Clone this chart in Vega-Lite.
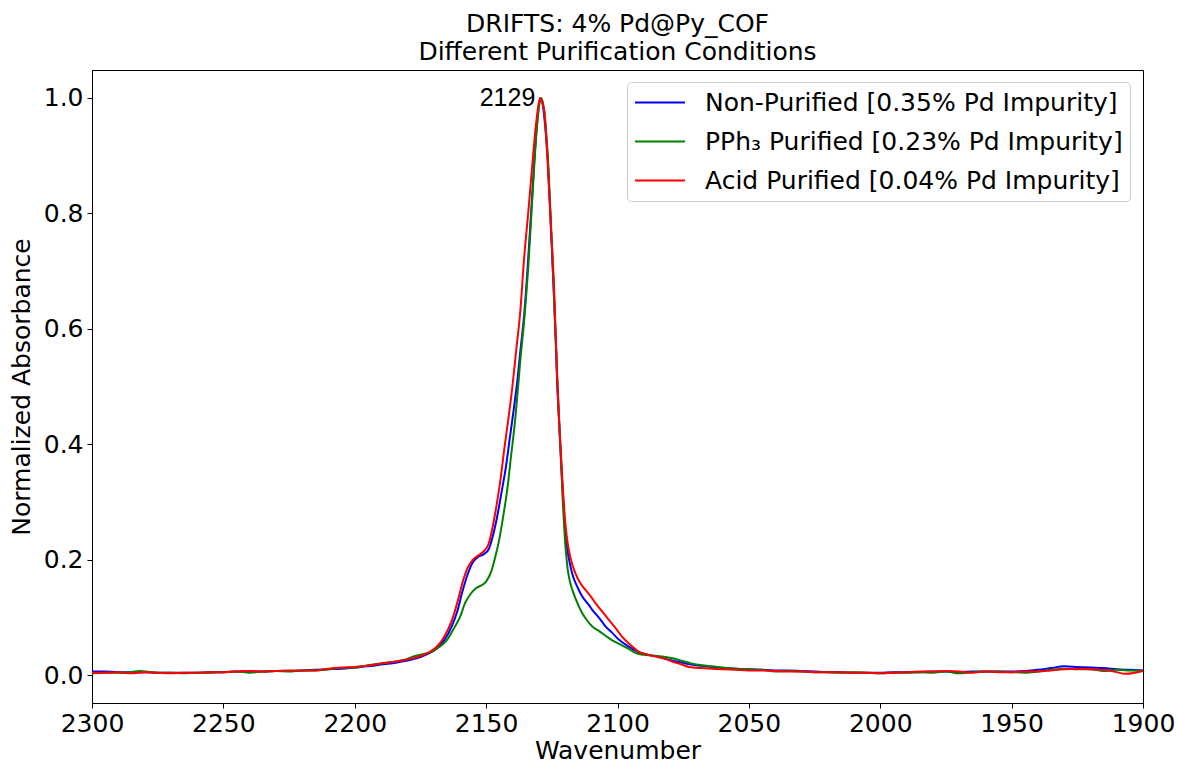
{
  "$schema": "https://vega.github.io/schema/vega-lite/v6.json",
  "width": 1051,
  "height": 633,
  "autosize": {"type": "none"},
  "padding": {"left": 92, "top": 70, "right": 34, "bottom": 60},
  "background": "white",
  "title": {
    "text": ["DRIFTS: 4% Pd@Py_COF", "Different Purification Conditions"],
    "font": "DejaVu Sans",
    "fontSize": 25,
    "fontWeight": "normal",
    "color": "#000000",
    "lineHeight": 28,
    "anchor": "middle",
    "offset": 5
  },
  "config": {
    "view": {"stroke": "#000000", "strokeWidth": 1},
    "axis": {
      "grid": false,
      "domainColor": "#000000",
      "tickColor": "#000000",
      "tickSize": 5,
      "labelFlush": false,
      "labelOverlap": false,
      "labelFont": "DejaVu Sans",
      "labelFontSize": 25,
      "labelColor": "#000000",
      "titleFont": "DejaVu Sans",
      "titleFontSize": 25,
      "titleFontWeight": "normal",
      "titleColor": "#000000"
    }
  },
  "layer": [
    {
      "data": {
        "values": [
          {"series": "Non-Purified [0.35% Pd Impurity]", "wavenumber": 2300, "absorbance": 0.006},
          {"series": "Non-Purified [0.35% Pd Impurity]", "wavenumber": 2295, "absorbance": 0.006},
          {"series": "Non-Purified [0.35% Pd Impurity]", "wavenumber": 2290, "absorbance": 0.005},
          {"series": "Non-Purified [0.35% Pd Impurity]", "wavenumber": 2285, "absorbance": 0.005},
          {"series": "Non-Purified [0.35% Pd Impurity]", "wavenumber": 2280, "absorbance": 0.005},
          {"series": "Non-Purified [0.35% Pd Impurity]", "wavenumber": 2275, "absorbance": 0.004},
          {"series": "Non-Purified [0.35% Pd Impurity]", "wavenumber": 2270, "absorbance": 0.004},
          {"series": "Non-Purified [0.35% Pd Impurity]", "wavenumber": 2265, "absorbance": 0.004},
          {"series": "Non-Purified [0.35% Pd Impurity]", "wavenumber": 2260, "absorbance": 0.004},
          {"series": "Non-Purified [0.35% Pd Impurity]", "wavenumber": 2255, "absorbance": 0.005},
          {"series": "Non-Purified [0.35% Pd Impurity]", "wavenumber": 2250, "absorbance": 0.005},
          {"series": "Non-Purified [0.35% Pd Impurity]", "wavenumber": 2245, "absorbance": 0.006},
          {"series": "Non-Purified [0.35% Pd Impurity]", "wavenumber": 2240, "absorbance": 0.006},
          {"series": "Non-Purified [0.35% Pd Impurity]", "wavenumber": 2235, "absorbance": 0.006},
          {"series": "Non-Purified [0.35% Pd Impurity]", "wavenumber": 2230, "absorbance": 0.007},
          {"series": "Non-Purified [0.35% Pd Impurity]", "wavenumber": 2225, "absorbance": 0.007},
          {"series": "Non-Purified [0.35% Pd Impurity]", "wavenumber": 2220, "absorbance": 0.008},
          {"series": "Non-Purified [0.35% Pd Impurity]", "wavenumber": 2215, "absorbance": 0.009},
          {"series": "Non-Purified [0.35% Pd Impurity]", "wavenumber": 2210, "absorbance": 0.010},
          {"series": "Non-Purified [0.35% Pd Impurity]", "wavenumber": 2205, "absorbance": 0.011},
          {"series": "Non-Purified [0.35% Pd Impurity]", "wavenumber": 2200, "absorbance": 0.013},
          {"series": "Non-Purified [0.35% Pd Impurity]", "wavenumber": 2195, "absorbance": 0.015},
          {"series": "Non-Purified [0.35% Pd Impurity]", "wavenumber": 2190, "absorbance": 0.018},
          {"series": "Non-Purified [0.35% Pd Impurity]", "wavenumber": 2185, "absorbance": 0.021},
          {"series": "Non-Purified [0.35% Pd Impurity]", "wavenumber": 2180, "absorbance": 0.025},
          {"series": "Non-Purified [0.35% Pd Impurity]", "wavenumber": 2175, "absorbance": 0.031},
          {"series": "Non-Purified [0.35% Pd Impurity]", "wavenumber": 2172, "absorbance": 0.037},
          {"series": "Non-Purified [0.35% Pd Impurity]", "wavenumber": 2169, "absorbance": 0.045},
          {"series": "Non-Purified [0.35% Pd Impurity]", "wavenumber": 2166, "absorbance": 0.060},
          {"series": "Non-Purified [0.35% Pd Impurity]", "wavenumber": 2163, "absorbance": 0.085},
          {"series": "Non-Purified [0.35% Pd Impurity]", "wavenumber": 2161, "absorbance": 0.110},
          {"series": "Non-Purified [0.35% Pd Impurity]", "wavenumber": 2159, "absorbance": 0.145},
          {"series": "Non-Purified [0.35% Pd Impurity]", "wavenumber": 2157, "absorbance": 0.175},
          {"series": "Non-Purified [0.35% Pd Impurity]", "wavenumber": 2155, "absorbance": 0.196},
          {"series": "Non-Purified [0.35% Pd Impurity]", "wavenumber": 2153, "absorbance": 0.205},
          {"series": "Non-Purified [0.35% Pd Impurity]", "wavenumber": 2151, "absorbance": 0.209},
          {"series": "Non-Purified [0.35% Pd Impurity]", "wavenumber": 2149, "absorbance": 0.218},
          {"series": "Non-Purified [0.35% Pd Impurity]", "wavenumber": 2147.5, "absorbance": 0.240},
          {"series": "Non-Purified [0.35% Pd Impurity]", "wavenumber": 2146, "absorbance": 0.270},
          {"series": "Non-Purified [0.35% Pd Impurity]", "wavenumber": 2144, "absorbance": 0.320},
          {"series": "Non-Purified [0.35% Pd Impurity]", "wavenumber": 2142.5, "absorbance": 0.360},
          {"series": "Non-Purified [0.35% Pd Impurity]", "wavenumber": 2141, "absorbance": 0.410},
          {"series": "Non-Purified [0.35% Pd Impurity]", "wavenumber": 2139.5, "absorbance": 0.460},
          {"series": "Non-Purified [0.35% Pd Impurity]", "wavenumber": 2138, "absorbance": 0.515},
          {"series": "Non-Purified [0.35% Pd Impurity]", "wavenumber": 2137, "absorbance": 0.560},
          {"series": "Non-Purified [0.35% Pd Impurity]", "wavenumber": 2135.5, "absorbance": 0.625},
          {"series": "Non-Purified [0.35% Pd Impurity]", "wavenumber": 2134, "absorbance": 0.720},
          {"series": "Non-Purified [0.35% Pd Impurity]", "wavenumber": 2132.5, "absorbance": 0.830},
          {"series": "Non-Purified [0.35% Pd Impurity]", "wavenumber": 2131, "absorbance": 0.935},
          {"series": "Non-Purified [0.35% Pd Impurity]", "wavenumber": 2130, "absorbance": 0.985},
          {"series": "Non-Purified [0.35% Pd Impurity]", "wavenumber": 2129.3, "absorbance": 1.000},
          {"series": "Non-Purified [0.35% Pd Impurity]", "wavenumber": 2128.5, "absorbance": 0.990},
          {"series": "Non-Purified [0.35% Pd Impurity]", "wavenumber": 2127.5, "absorbance": 0.950},
          {"series": "Non-Purified [0.35% Pd Impurity]", "wavenumber": 2126.5, "absorbance": 0.890},
          {"series": "Non-Purified [0.35% Pd Impurity]", "wavenumber": 2125.5, "absorbance": 0.790},
          {"series": "Non-Purified [0.35% Pd Impurity]", "wavenumber": 2124.5, "absorbance": 0.690},
          {"series": "Non-Purified [0.35% Pd Impurity]", "wavenumber": 2123.5, "absorbance": 0.580},
          {"series": "Non-Purified [0.35% Pd Impurity]", "wavenumber": 2123, "absorbance": 0.510},
          {"series": "Non-Purified [0.35% Pd Impurity]", "wavenumber": 2122, "absorbance": 0.420},
          {"series": "Non-Purified [0.35% Pd Impurity]", "wavenumber": 2121, "absorbance": 0.330},
          {"series": "Non-Purified [0.35% Pd Impurity]", "wavenumber": 2120, "absorbance": 0.260},
          {"series": "Non-Purified [0.35% Pd Impurity]", "wavenumber": 2119, "absorbance": 0.215},
          {"series": "Non-Purified [0.35% Pd Impurity]", "wavenumber": 2118, "absorbance": 0.190},
          {"series": "Non-Purified [0.35% Pd Impurity]", "wavenumber": 2117, "absorbance": 0.172},
          {"series": "Non-Purified [0.35% Pd Impurity]", "wavenumber": 2115, "absorbance": 0.150},
          {"series": "Non-Purified [0.35% Pd Impurity]", "wavenumber": 2113.4, "absorbance": 0.136},
          {"series": "Non-Purified [0.35% Pd Impurity]", "wavenumber": 2111, "absorbance": 0.122},
          {"series": "Non-Purified [0.35% Pd Impurity]", "wavenumber": 2109.6, "absorbance": 0.113},
          {"series": "Non-Purified [0.35% Pd Impurity]", "wavenumber": 2107, "absorbance": 0.099},
          {"series": "Non-Purified [0.35% Pd Impurity]", "wavenumber": 2104.5, "absorbance": 0.084},
          {"series": "Non-Purified [0.35% Pd Impurity]", "wavenumber": 2102, "absorbance": 0.073},
          {"series": "Non-Purified [0.35% Pd Impurity]", "wavenumber": 2099.4, "absorbance": 0.061},
          {"series": "Non-Purified [0.35% Pd Impurity]", "wavenumber": 2096, "absorbance": 0.050},
          {"series": "Non-Purified [0.35% Pd Impurity]", "wavenumber": 2093, "absorbance": 0.042},
          {"series": "Non-Purified [0.35% Pd Impurity]", "wavenumber": 2090, "absorbance": 0.037},
          {"series": "Non-Purified [0.35% Pd Impurity]", "wavenumber": 2087, "absorbance": 0.034},
          {"series": "Non-Purified [0.35% Pd Impurity]", "wavenumber": 2083, "absorbance": 0.030},
          {"series": "Non-Purified [0.35% Pd Impurity]", "wavenumber": 2080, "absorbance": 0.026},
          {"series": "Non-Purified [0.35% Pd Impurity]", "wavenumber": 2076, "absorbance": 0.022},
          {"series": "Non-Purified [0.35% Pd Impurity]", "wavenumber": 2072, "absorbance": 0.018},
          {"series": "Non-Purified [0.35% Pd Impurity]", "wavenumber": 2068, "absorbance": 0.016},
          {"series": "Non-Purified [0.35% Pd Impurity]", "wavenumber": 2064, "absorbance": 0.014},
          {"series": "Non-Purified [0.35% Pd Impurity]", "wavenumber": 2060, "absorbance": 0.012},
          {"series": "Non-Purified [0.35% Pd Impurity]", "wavenumber": 2055, "absorbance": 0.011},
          {"series": "Non-Purified [0.35% Pd Impurity]", "wavenumber": 2050, "absorbance": 0.010},
          {"series": "Non-Purified [0.35% Pd Impurity]", "wavenumber": 2045, "absorbance": 0.009},
          {"series": "Non-Purified [0.35% Pd Impurity]", "wavenumber": 2040, "absorbance": 0.008},
          {"series": "Non-Purified [0.35% Pd Impurity]", "wavenumber": 2035, "absorbance": 0.008},
          {"series": "Non-Purified [0.35% Pd Impurity]", "wavenumber": 2030, "absorbance": 0.007},
          {"series": "Non-Purified [0.35% Pd Impurity]", "wavenumber": 2025, "absorbance": 0.006},
          {"series": "Non-Purified [0.35% Pd Impurity]", "wavenumber": 2020, "absorbance": 0.005},
          {"series": "Non-Purified [0.35% Pd Impurity]", "wavenumber": 2015, "absorbance": 0.005},
          {"series": "Non-Purified [0.35% Pd Impurity]", "wavenumber": 2010, "absorbance": 0.004},
          {"series": "Non-Purified [0.35% Pd Impurity]", "wavenumber": 2005, "absorbance": 0.004},
          {"series": "Non-Purified [0.35% Pd Impurity]", "wavenumber": 2000, "absorbance": 0.004},
          {"series": "Non-Purified [0.35% Pd Impurity]", "wavenumber": 1995, "absorbance": 0.005},
          {"series": "Non-Purified [0.35% Pd Impurity]", "wavenumber": 1990, "absorbance": 0.005},
          {"series": "Non-Purified [0.35% Pd Impurity]", "wavenumber": 1985, "absorbance": 0.005},
          {"series": "Non-Purified [0.35% Pd Impurity]", "wavenumber": 1980, "absorbance": 0.006},
          {"series": "Non-Purified [0.35% Pd Impurity]", "wavenumber": 1975, "absorbance": 0.006},
          {"series": "Non-Purified [0.35% Pd Impurity]", "wavenumber": 1970, "absorbance": 0.005},
          {"series": "Non-Purified [0.35% Pd Impurity]", "wavenumber": 1965, "absorbance": 0.006},
          {"series": "Non-Purified [0.35% Pd Impurity]", "wavenumber": 1960, "absorbance": 0.006},
          {"series": "Non-Purified [0.35% Pd Impurity]", "wavenumber": 1955, "absorbance": 0.006},
          {"series": "Non-Purified [0.35% Pd Impurity]", "wavenumber": 1950, "absorbance": 0.006},
          {"series": "Non-Purified [0.35% Pd Impurity]", "wavenumber": 1945, "absorbance": 0.007},
          {"series": "Non-Purified [0.35% Pd Impurity]", "wavenumber": 1940, "absorbance": 0.009},
          {"series": "Non-Purified [0.35% Pd Impurity]", "wavenumber": 1935, "absorbance": 0.012},
          {"series": "Non-Purified [0.35% Pd Impurity]", "wavenumber": 1930, "absorbance": 0.015},
          {"series": "Non-Purified [0.35% Pd Impurity]", "wavenumber": 1925, "absorbance": 0.014},
          {"series": "Non-Purified [0.35% Pd Impurity]", "wavenumber": 1920, "absorbance": 0.013},
          {"series": "Non-Purified [0.35% Pd Impurity]", "wavenumber": 1915, "absorbance": 0.012},
          {"series": "Non-Purified [0.35% Pd Impurity]", "wavenumber": 1910, "absorbance": 0.010},
          {"series": "Non-Purified [0.35% Pd Impurity]", "wavenumber": 1905, "absorbance": 0.009},
          {"series": "Non-Purified [0.35% Pd Impurity]", "wavenumber": 1900, "absorbance": 0.008},

          {"series": "PPh₃ Purified [0.23% Pd Impurity]", "wavenumber": 2300, "absorbance": 0.003},
          {"series": "PPh₃ Purified [0.23% Pd Impurity]", "wavenumber": 2295, "absorbance": 0.004},
          {"series": "PPh₃ Purified [0.23% Pd Impurity]", "wavenumber": 2290, "absorbance": 0.004},
          {"series": "PPh₃ Purified [0.23% Pd Impurity]", "wavenumber": 2285, "absorbance": 0.005},
          {"series": "PPh₃ Purified [0.23% Pd Impurity]", "wavenumber": 2282, "absorbance": 0.007},
          {"series": "PPh₃ Purified [0.23% Pd Impurity]", "wavenumber": 2278, "absorbance": 0.005},
          {"series": "PPh₃ Purified [0.23% Pd Impurity]", "wavenumber": 2275, "absorbance": 0.004},
          {"series": "PPh₃ Purified [0.23% Pd Impurity]", "wavenumber": 2270, "absorbance": 0.004},
          {"series": "PPh₃ Purified [0.23% Pd Impurity]", "wavenumber": 2265, "absorbance": 0.003},
          {"series": "PPh₃ Purified [0.23% Pd Impurity]", "wavenumber": 2260, "absorbance": 0.004},
          {"series": "PPh₃ Purified [0.23% Pd Impurity]", "wavenumber": 2255, "absorbance": 0.004},
          {"series": "PPh₃ Purified [0.23% Pd Impurity]", "wavenumber": 2250, "absorbance": 0.005},
          {"series": "PPh₃ Purified [0.23% Pd Impurity]", "wavenumber": 2245, "absorbance": 0.006},
          {"series": "PPh₃ Purified [0.23% Pd Impurity]", "wavenumber": 2240, "absorbance": 0.004},
          {"series": "PPh₃ Purified [0.23% Pd Impurity]", "wavenumber": 2235, "absorbance": 0.006},
          {"series": "PPh₃ Purified [0.23% Pd Impurity]", "wavenumber": 2230, "absorbance": 0.007},
          {"series": "PPh₃ Purified [0.23% Pd Impurity]", "wavenumber": 2225, "absorbance": 0.006},
          {"series": "PPh₃ Purified [0.23% Pd Impurity]", "wavenumber": 2220, "absorbance": 0.008},
          {"series": "PPh₃ Purified [0.23% Pd Impurity]", "wavenumber": 2215, "absorbance": 0.008},
          {"series": "PPh₃ Purified [0.23% Pd Impurity]", "wavenumber": 2210, "absorbance": 0.010},
          {"series": "PPh₃ Purified [0.23% Pd Impurity]", "wavenumber": 2205, "absorbance": 0.012},
          {"series": "PPh₃ Purified [0.23% Pd Impurity]", "wavenumber": 2200, "absorbance": 0.013},
          {"series": "PPh₃ Purified [0.23% Pd Impurity]", "wavenumber": 2195, "absorbance": 0.017},
          {"series": "PPh₃ Purified [0.23% Pd Impurity]", "wavenumber": 2190, "absorbance": 0.020},
          {"series": "PPh₃ Purified [0.23% Pd Impurity]", "wavenumber": 2185, "absorbance": 0.023},
          {"series": "PPh₃ Purified [0.23% Pd Impurity]", "wavenumber": 2180, "absorbance": 0.028},
          {"series": "PPh₃ Purified [0.23% Pd Impurity]", "wavenumber": 2177, "absorbance": 0.033},
          {"series": "PPh₃ Purified [0.23% Pd Impurity]", "wavenumber": 2174, "absorbance": 0.036},
          {"series": "PPh₃ Purified [0.23% Pd Impurity]", "wavenumber": 2171, "absorbance": 0.040},
          {"series": "PPh₃ Purified [0.23% Pd Impurity]", "wavenumber": 2168, "absorbance": 0.048},
          {"series": "PPh₃ Purified [0.23% Pd Impurity]", "wavenumber": 2165, "absorbance": 0.060},
          {"series": "PPh₃ Purified [0.23% Pd Impurity]", "wavenumber": 2162, "absorbance": 0.083},
          {"series": "PPh₃ Purified [0.23% Pd Impurity]", "wavenumber": 2160, "absorbance": 0.100},
          {"series": "PPh₃ Purified [0.23% Pd Impurity]", "wavenumber": 2158, "absorbance": 0.125},
          {"series": "PPh₃ Purified [0.23% Pd Impurity]", "wavenumber": 2156, "absorbance": 0.140},
          {"series": "PPh₃ Purified [0.23% Pd Impurity]", "wavenumber": 2154, "absorbance": 0.150},
          {"series": "PPh₃ Purified [0.23% Pd Impurity]", "wavenumber": 2152, "absorbance": 0.155},
          {"series": "PPh₃ Purified [0.23% Pd Impurity]", "wavenumber": 2150, "absorbance": 0.162},
          {"series": "PPh₃ Purified [0.23% Pd Impurity]", "wavenumber": 2148, "absorbance": 0.180},
          {"series": "PPh₃ Purified [0.23% Pd Impurity]", "wavenumber": 2146.5, "absorbance": 0.205},
          {"series": "PPh₃ Purified [0.23% Pd Impurity]", "wavenumber": 2145, "absorbance": 0.235},
          {"series": "PPh₃ Purified [0.23% Pd Impurity]", "wavenumber": 2143.5, "absorbance": 0.275},
          {"series": "PPh₃ Purified [0.23% Pd Impurity]", "wavenumber": 2142, "absorbance": 0.320},
          {"series": "PPh₃ Purified [0.23% Pd Impurity]", "wavenumber": 2140.5, "absorbance": 0.380},
          {"series": "PPh₃ Purified [0.23% Pd Impurity]", "wavenumber": 2139, "absorbance": 0.440},
          {"series": "PPh₃ Purified [0.23% Pd Impurity]", "wavenumber": 2138, "absorbance": 0.490},
          {"series": "PPh₃ Purified [0.23% Pd Impurity]", "wavenumber": 2137, "absorbance": 0.545},
          {"series": "PPh₃ Purified [0.23% Pd Impurity]", "wavenumber": 2135.5, "absorbance": 0.615},
          {"series": "PPh₃ Purified [0.23% Pd Impurity]", "wavenumber": 2134, "absorbance": 0.705},
          {"series": "PPh₃ Purified [0.23% Pd Impurity]", "wavenumber": 2132.5, "absorbance": 0.820},
          {"series": "PPh₃ Purified [0.23% Pd Impurity]", "wavenumber": 2131, "absorbance": 0.930},
          {"series": "PPh₃ Purified [0.23% Pd Impurity]", "wavenumber": 2130, "absorbance": 0.980},
          {"series": "PPh₃ Purified [0.23% Pd Impurity]", "wavenumber": 2129.2, "absorbance": 1.000},
          {"series": "PPh₃ Purified [0.23% Pd Impurity]", "wavenumber": 2128.3, "absorbance": 0.990},
          {"series": "PPh₃ Purified [0.23% Pd Impurity]", "wavenumber": 2127.3, "absorbance": 0.950},
          {"series": "PPh₃ Purified [0.23% Pd Impurity]", "wavenumber": 2126.3, "absorbance": 0.880},
          {"series": "PPh₃ Purified [0.23% Pd Impurity]", "wavenumber": 2125.3, "absorbance": 0.780},
          {"series": "PPh₃ Purified [0.23% Pd Impurity]", "wavenumber": 2124.3, "absorbance": 0.670},
          {"series": "PPh₃ Purified [0.23% Pd Impurity]", "wavenumber": 2123.3, "absorbance": 0.560},
          {"series": "PPh₃ Purified [0.23% Pd Impurity]", "wavenumber": 2122.7, "absorbance": 0.490},
          {"series": "PPh₃ Purified [0.23% Pd Impurity]", "wavenumber": 2121.7, "absorbance": 0.390},
          {"series": "PPh₃ Purified [0.23% Pd Impurity]", "wavenumber": 2120.8, "absorbance": 0.300},
          {"series": "PPh₃ Purified [0.23% Pd Impurity]", "wavenumber": 2120, "absorbance": 0.235},
          {"series": "PPh₃ Purified [0.23% Pd Impurity]", "wavenumber": 2119, "absorbance": 0.185},
          {"series": "PPh₃ Purified [0.23% Pd Impurity]", "wavenumber": 2118, "absorbance": 0.160},
          {"series": "PPh₃ Purified [0.23% Pd Impurity]", "wavenumber": 2117, "absorbance": 0.145},
          {"series": "PPh₃ Purified [0.23% Pd Impurity]", "wavenumber": 2115, "absorbance": 0.122},
          {"series": "PPh₃ Purified [0.23% Pd Impurity]", "wavenumber": 2113.4, "absorbance": 0.107},
          {"series": "PPh₃ Purified [0.23% Pd Impurity]", "wavenumber": 2111.5, "absorbance": 0.094},
          {"series": "PPh₃ Purified [0.23% Pd Impurity]", "wavenumber": 2109.6, "absorbance": 0.084},
          {"series": "PPh₃ Purified [0.23% Pd Impurity]", "wavenumber": 2107, "absorbance": 0.076},
          {"series": "PPh₃ Purified [0.23% Pd Impurity]", "wavenumber": 2104.5, "absorbance": 0.068},
          {"series": "PPh₃ Purified [0.23% Pd Impurity]", "wavenumber": 2102, "absorbance": 0.060},
          {"series": "PPh₃ Purified [0.23% Pd Impurity]", "wavenumber": 2099.4, "absorbance": 0.054},
          {"series": "PPh₃ Purified [0.23% Pd Impurity]", "wavenumber": 2096, "absorbance": 0.046},
          {"series": "PPh₃ Purified [0.23% Pd Impurity]", "wavenumber": 2093, "absorbance": 0.038},
          {"series": "PPh₃ Purified [0.23% Pd Impurity]", "wavenumber": 2090, "absorbance": 0.035},
          {"series": "PPh₃ Purified [0.23% Pd Impurity]", "wavenumber": 2087, "absorbance": 0.034},
          {"series": "PPh₃ Purified [0.23% Pd Impurity]", "wavenumber": 2083, "absorbance": 0.032},
          {"series": "PPh₃ Purified [0.23% Pd Impurity]", "wavenumber": 2079, "absorbance": 0.029},
          {"series": "PPh₃ Purified [0.23% Pd Impurity]", "wavenumber": 2075, "absorbance": 0.024},
          {"series": "PPh₃ Purified [0.23% Pd Impurity]", "wavenumber": 2072, "absorbance": 0.020},
          {"series": "PPh₃ Purified [0.23% Pd Impurity]", "wavenumber": 2068, "absorbance": 0.017},
          {"series": "PPh₃ Purified [0.23% Pd Impurity]", "wavenumber": 2064, "absorbance": 0.015},
          {"series": "PPh₃ Purified [0.23% Pd Impurity]", "wavenumber": 2060, "absorbance": 0.013},
          {"series": "PPh₃ Purified [0.23% Pd Impurity]", "wavenumber": 2055, "absorbance": 0.011},
          {"series": "PPh₃ Purified [0.23% Pd Impurity]", "wavenumber": 2050, "absorbance": 0.010},
          {"series": "PPh₃ Purified [0.23% Pd Impurity]", "wavenumber": 2045, "absorbance": 0.009},
          {"series": "PPh₃ Purified [0.23% Pd Impurity]", "wavenumber": 2040, "absorbance": 0.006},
          {"series": "PPh₃ Purified [0.23% Pd Impurity]", "wavenumber": 2035, "absorbance": 0.007},
          {"series": "PPh₃ Purified [0.23% Pd Impurity]", "wavenumber": 2030, "absorbance": 0.006},
          {"series": "PPh₃ Purified [0.23% Pd Impurity]", "wavenumber": 2025, "absorbance": 0.005},
          {"series": "PPh₃ Purified [0.23% Pd Impurity]", "wavenumber": 2020, "absorbance": 0.005},
          {"series": "PPh₃ Purified [0.23% Pd Impurity]", "wavenumber": 2015, "absorbance": 0.004},
          {"series": "PPh₃ Purified [0.23% Pd Impurity]", "wavenumber": 2010, "absorbance": 0.005},
          {"series": "PPh₃ Purified [0.23% Pd Impurity]", "wavenumber": 2005, "absorbance": 0.004},
          {"series": "PPh₃ Purified [0.23% Pd Impurity]", "wavenumber": 2000, "absorbance": 0.003},
          {"series": "PPh₃ Purified [0.23% Pd Impurity]", "wavenumber": 1995, "absorbance": 0.004},
          {"series": "PPh₃ Purified [0.23% Pd Impurity]", "wavenumber": 1990, "absorbance": 0.004},
          {"series": "PPh₃ Purified [0.23% Pd Impurity]", "wavenumber": 1985, "absorbance": 0.005},
          {"series": "PPh₃ Purified [0.23% Pd Impurity]", "wavenumber": 1980, "absorbance": 0.004},
          {"series": "PPh₃ Purified [0.23% Pd Impurity]", "wavenumber": 1975, "absorbance": 0.006},
          {"series": "PPh₃ Purified [0.23% Pd Impurity]", "wavenumber": 1970, "absorbance": 0.003},
          {"series": "PPh₃ Purified [0.23% Pd Impurity]", "wavenumber": 1965, "absorbance": 0.005},
          {"series": "PPh₃ Purified [0.23% Pd Impurity]", "wavenumber": 1960, "absorbance": 0.006},
          {"series": "PPh₃ Purified [0.23% Pd Impurity]", "wavenumber": 1955, "absorbance": 0.006},
          {"series": "PPh₃ Purified [0.23% Pd Impurity]", "wavenumber": 1950, "absorbance": 0.005},
          {"series": "PPh₃ Purified [0.23% Pd Impurity]", "wavenumber": 1945, "absorbance": 0.004},
          {"series": "PPh₃ Purified [0.23% Pd Impurity]", "wavenumber": 1940, "absorbance": 0.006},
          {"series": "PPh₃ Purified [0.23% Pd Impurity]", "wavenumber": 1935, "absorbance": 0.009},
          {"series": "PPh₃ Purified [0.23% Pd Impurity]", "wavenumber": 1930, "absorbance": 0.011},
          {"series": "PPh₃ Purified [0.23% Pd Impurity]", "wavenumber": 1925, "absorbance": 0.010},
          {"series": "PPh₃ Purified [0.23% Pd Impurity]", "wavenumber": 1920, "absorbance": 0.010},
          {"series": "PPh₃ Purified [0.23% Pd Impurity]", "wavenumber": 1915, "absorbance": 0.007},
          {"series": "PPh₃ Purified [0.23% Pd Impurity]", "wavenumber": 1910, "absorbance": 0.009},
          {"series": "PPh₃ Purified [0.23% Pd Impurity]", "wavenumber": 1905, "absorbance": 0.008},
          {"series": "PPh₃ Purified [0.23% Pd Impurity]", "wavenumber": 1900, "absorbance": 0.007},

          {"series": "Acid Purified [0.04% Pd Impurity]", "wavenumber": 2300, "absorbance": 0.004},
          {"series": "Acid Purified [0.04% Pd Impurity]", "wavenumber": 2295, "absorbance": 0.004},
          {"series": "Acid Purified [0.04% Pd Impurity]", "wavenumber": 2290, "absorbance": 0.005},
          {"series": "Acid Purified [0.04% Pd Impurity]", "wavenumber": 2285, "absorbance": 0.003},
          {"series": "Acid Purified [0.04% Pd Impurity]", "wavenumber": 2280, "absorbance": 0.005},
          {"series": "Acid Purified [0.04% Pd Impurity]", "wavenumber": 2275, "absorbance": 0.004},
          {"series": "Acid Purified [0.04% Pd Impurity]", "wavenumber": 2270, "absorbance": 0.003},
          {"series": "Acid Purified [0.04% Pd Impurity]", "wavenumber": 2265, "absorbance": 0.004},
          {"series": "Acid Purified [0.04% Pd Impurity]", "wavenumber": 2260, "absorbance": 0.004},
          {"series": "Acid Purified [0.04% Pd Impurity]", "wavenumber": 2255, "absorbance": 0.005},
          {"series": "Acid Purified [0.04% Pd Impurity]", "wavenumber": 2250, "absorbance": 0.005},
          {"series": "Acid Purified [0.04% Pd Impurity]", "wavenumber": 2245, "absorbance": 0.006},
          {"series": "Acid Purified [0.04% Pd Impurity]", "wavenumber": 2240, "absorbance": 0.007},
          {"series": "Acid Purified [0.04% Pd Impurity]", "wavenumber": 2235, "absorbance": 0.006},
          {"series": "Acid Purified [0.04% Pd Impurity]", "wavenumber": 2230, "absorbance": 0.007},
          {"series": "Acid Purified [0.04% Pd Impurity]", "wavenumber": 2225, "absorbance": 0.008},
          {"series": "Acid Purified [0.04% Pd Impurity]", "wavenumber": 2220, "absorbance": 0.008},
          {"series": "Acid Purified [0.04% Pd Impurity]", "wavenumber": 2215, "absorbance": 0.008},
          {"series": "Acid Purified [0.04% Pd Impurity]", "wavenumber": 2210, "absorbance": 0.011},
          {"series": "Acid Purified [0.04% Pd Impurity]", "wavenumber": 2205, "absorbance": 0.013},
          {"series": "Acid Purified [0.04% Pd Impurity]", "wavenumber": 2200, "absorbance": 0.014},
          {"series": "Acid Purified [0.04% Pd Impurity]", "wavenumber": 2195, "absorbance": 0.016},
          {"series": "Acid Purified [0.04% Pd Impurity]", "wavenumber": 2190, "absorbance": 0.020},
          {"series": "Acid Purified [0.04% Pd Impurity]", "wavenumber": 2185, "absorbance": 0.023},
          {"series": "Acid Purified [0.04% Pd Impurity]", "wavenumber": 2180, "absorbance": 0.027},
          {"series": "Acid Purified [0.04% Pd Impurity]", "wavenumber": 2175, "absorbance": 0.033},
          {"series": "Acid Purified [0.04% Pd Impurity]", "wavenumber": 2172, "absorbance": 0.039},
          {"series": "Acid Purified [0.04% Pd Impurity]", "wavenumber": 2169, "absorbance": 0.048},
          {"series": "Acid Purified [0.04% Pd Impurity]", "wavenumber": 2166, "absorbance": 0.066},
          {"series": "Acid Purified [0.04% Pd Impurity]", "wavenumber": 2163, "absorbance": 0.095},
          {"series": "Acid Purified [0.04% Pd Impurity]", "wavenumber": 2161, "absorbance": 0.125},
          {"series": "Acid Purified [0.04% Pd Impurity]", "wavenumber": 2159, "absorbance": 0.160},
          {"series": "Acid Purified [0.04% Pd Impurity]", "wavenumber": 2157, "absorbance": 0.186},
          {"series": "Acid Purified [0.04% Pd Impurity]", "wavenumber": 2155, "absorbance": 0.200},
          {"series": "Acid Purified [0.04% Pd Impurity]", "wavenumber": 2153, "absorbance": 0.207},
          {"series": "Acid Purified [0.04% Pd Impurity]", "wavenumber": 2151, "absorbance": 0.214},
          {"series": "Acid Purified [0.04% Pd Impurity]", "wavenumber": 2149, "absorbance": 0.228},
          {"series": "Acid Purified [0.04% Pd Impurity]", "wavenumber": 2147.5, "absorbance": 0.257},
          {"series": "Acid Purified [0.04% Pd Impurity]", "wavenumber": 2146, "absorbance": 0.295},
          {"series": "Acid Purified [0.04% Pd Impurity]", "wavenumber": 2144.5, "absorbance": 0.340},
          {"series": "Acid Purified [0.04% Pd Impurity]", "wavenumber": 2143, "absorbance": 0.395},
          {"series": "Acid Purified [0.04% Pd Impurity]", "wavenumber": 2141.5, "absorbance": 0.445},
          {"series": "Acid Purified [0.04% Pd Impurity]", "wavenumber": 2140, "absorbance": 0.500},
          {"series": "Acid Purified [0.04% Pd Impurity]", "wavenumber": 2138.5, "absorbance": 0.565},
          {"series": "Acid Purified [0.04% Pd Impurity]", "wavenumber": 2137, "absorbance": 0.630},
          {"series": "Acid Purified [0.04% Pd Impurity]", "wavenumber": 2135.5, "absorbance": 0.725},
          {"series": "Acid Purified [0.04% Pd Impurity]", "wavenumber": 2134, "absorbance": 0.800},
          {"series": "Acid Purified [0.04% Pd Impurity]", "wavenumber": 2132.5, "absorbance": 0.880},
          {"series": "Acid Purified [0.04% Pd Impurity]", "wavenumber": 2131, "absorbance": 0.955},
          {"series": "Acid Purified [0.04% Pd Impurity]", "wavenumber": 2130, "absorbance": 0.990},
          {"series": "Acid Purified [0.04% Pd Impurity]", "wavenumber": 2129.4, "absorbance": 1.000},
          {"series": "Acid Purified [0.04% Pd Impurity]", "wavenumber": 2128.5, "absorbance": 0.990},
          {"series": "Acid Purified [0.04% Pd Impurity]", "wavenumber": 2127.8, "absorbance": 0.975},
          {"series": "Acid Purified [0.04% Pd Impurity]", "wavenumber": 2126.7, "absorbance": 0.898},
          {"series": "Acid Purified [0.04% Pd Impurity]", "wavenumber": 2125.4, "absorbance": 0.783},
          {"series": "Acid Purified [0.04% Pd Impurity]", "wavenumber": 2124.1, "absorbance": 0.667},
          {"series": "Acid Purified [0.04% Pd Impurity]", "wavenumber": 2123, "absorbance": 0.520},
          {"series": "Acid Purified [0.04% Pd Impurity]", "wavenumber": 2122, "absorbance": 0.420},
          {"series": "Acid Purified [0.04% Pd Impurity]", "wavenumber": 2121, "absorbance": 0.340},
          {"series": "Acid Purified [0.04% Pd Impurity]", "wavenumber": 2120, "absorbance": 0.270},
          {"series": "Acid Purified [0.04% Pd Impurity]", "wavenumber": 2119, "absorbance": 0.230},
          {"series": "Acid Purified [0.04% Pd Impurity]", "wavenumber": 2118, "absorbance": 0.205},
          {"series": "Acid Purified [0.04% Pd Impurity]", "wavenumber": 2116, "absorbance": 0.176},
          {"series": "Acid Purified [0.04% Pd Impurity]", "wavenumber": 2114, "absorbance": 0.158},
          {"series": "Acid Purified [0.04% Pd Impurity]", "wavenumber": 2112.1, "absorbance": 0.147},
          {"series": "Acid Purified [0.04% Pd Impurity]", "wavenumber": 2110, "absorbance": 0.135},
          {"series": "Acid Purified [0.04% Pd Impurity]", "wavenumber": 2108.3, "absorbance": 0.124},
          {"series": "Acid Purified [0.04% Pd Impurity]", "wavenumber": 2106, "absorbance": 0.111},
          {"series": "Acid Purified [0.04% Pd Impurity]", "wavenumber": 2103.2, "absorbance": 0.095},
          {"series": "Acid Purified [0.04% Pd Impurity]", "wavenumber": 2100.5, "absorbance": 0.080},
          {"series": "Acid Purified [0.04% Pd Impurity]", "wavenumber": 2098.2, "absorbance": 0.066},
          {"series": "Acid Purified [0.04% Pd Impurity]", "wavenumber": 2095, "absorbance": 0.052},
          {"series": "Acid Purified [0.04% Pd Impurity]", "wavenumber": 2091.8, "absorbance": 0.040},
          {"series": "Acid Purified [0.04% Pd Impurity]", "wavenumber": 2088.5, "absorbance": 0.035},
          {"series": "Acid Purified [0.04% Pd Impurity]", "wavenumber": 2085.5, "absorbance": 0.032},
          {"series": "Acid Purified [0.04% Pd Impurity]", "wavenumber": 2082, "absorbance": 0.028},
          {"series": "Acid Purified [0.04% Pd Impurity]", "wavenumber": 2079, "absorbance": 0.023},
          {"series": "Acid Purified [0.04% Pd Impurity]", "wavenumber": 2076, "absorbance": 0.019},
          {"series": "Acid Purified [0.04% Pd Impurity]", "wavenumber": 2072.8, "absorbance": 0.014},
          {"series": "Acid Purified [0.04% Pd Impurity]", "wavenumber": 2068, "absorbance": 0.012},
          {"series": "Acid Purified [0.04% Pd Impurity]", "wavenumber": 2064, "absorbance": 0.011},
          {"series": "Acid Purified [0.04% Pd Impurity]", "wavenumber": 2060, "absorbance": 0.010},
          {"series": "Acid Purified [0.04% Pd Impurity]", "wavenumber": 2055, "absorbance": 0.009},
          {"series": "Acid Purified [0.04% Pd Impurity]", "wavenumber": 2050, "absorbance": 0.008},
          {"series": "Acid Purified [0.04% Pd Impurity]", "wavenumber": 2045, "absorbance": 0.008},
          {"series": "Acid Purified [0.04% Pd Impurity]", "wavenumber": 2040, "absorbance": 0.007},
          {"series": "Acid Purified [0.04% Pd Impurity]", "wavenumber": 2035, "absorbance": 0.006},
          {"series": "Acid Purified [0.04% Pd Impurity]", "wavenumber": 2030, "absorbance": 0.006},
          {"series": "Acid Purified [0.04% Pd Impurity]", "wavenumber": 2025, "absorbance": 0.005},
          {"series": "Acid Purified [0.04% Pd Impurity]", "wavenumber": 2020, "absorbance": 0.005},
          {"series": "Acid Purified [0.04% Pd Impurity]", "wavenumber": 2015, "absorbance": 0.005},
          {"series": "Acid Purified [0.04% Pd Impurity]", "wavenumber": 2010, "absorbance": 0.004},
          {"series": "Acid Purified [0.04% Pd Impurity]", "wavenumber": 2005, "absorbance": 0.004},
          {"series": "Acid Purified [0.04% Pd Impurity]", "wavenumber": 2000, "absorbance": 0.003},
          {"series": "Acid Purified [0.04% Pd Impurity]", "wavenumber": 1995, "absorbance": 0.004},
          {"series": "Acid Purified [0.04% Pd Impurity]", "wavenumber": 1990, "absorbance": 0.005},
          {"series": "Acid Purified [0.04% Pd Impurity]", "wavenumber": 1985, "absorbance": 0.006},
          {"series": "Acid Purified [0.04% Pd Impurity]", "wavenumber": 1980, "absorbance": 0.006},
          {"series": "Acid Purified [0.04% Pd Impurity]", "wavenumber": 1975, "absorbance": 0.007},
          {"series": "Acid Purified [0.04% Pd Impurity]", "wavenumber": 1970, "absorbance": 0.006},
          {"series": "Acid Purified [0.04% Pd Impurity]", "wavenumber": 1965, "absorbance": 0.004},
          {"series": "Acid Purified [0.04% Pd Impurity]", "wavenumber": 1960, "absorbance": 0.006},
          {"series": "Acid Purified [0.04% Pd Impurity]", "wavenumber": 1955, "absorbance": 0.005},
          {"series": "Acid Purified [0.04% Pd Impurity]", "wavenumber": 1950, "absorbance": 0.005},
          {"series": "Acid Purified [0.04% Pd Impurity]", "wavenumber": 1945, "absorbance": 0.006},
          {"series": "Acid Purified [0.04% Pd Impurity]", "wavenumber": 1940, "absorbance": 0.006},
          {"series": "Acid Purified [0.04% Pd Impurity]", "wavenumber": 1935, "absorbance": 0.008},
          {"series": "Acid Purified [0.04% Pd Impurity]", "wavenumber": 1930, "absorbance": 0.010},
          {"series": "Acid Purified [0.04% Pd Impurity]", "wavenumber": 1925, "absorbance": 0.011},
          {"series": "Acid Purified [0.04% Pd Impurity]", "wavenumber": 1920, "absorbance": 0.010},
          {"series": "Acid Purified [0.04% Pd Impurity]", "wavenumber": 1915, "absorbance": 0.009},
          {"series": "Acid Purified [0.04% Pd Impurity]", "wavenumber": 1910, "absorbance": 0.005},
          {"series": "Acid Purified [0.04% Pd Impurity]", "wavenumber": 1907, "absorbance": 0.002},
          {"series": "Acid Purified [0.04% Pd Impurity]", "wavenumber": 1903, "absorbance": 0.004},
          {"series": "Acid Purified [0.04% Pd Impurity]", "wavenumber": 1900, "absorbance": 0.007}
        ]
      },
      "mark": {"type": "line", "strokeWidth": 2, "interpolate": "monotone", "clip": true},
      "encoding": {
        "x": {
          "field": "wavenumber",
          "type": "quantitative",
          "scale": {"domain": [1900, 2300], "reverse": true, "nice": false, "zero": false},
          "axis": {"title": "Wavenumber", "values": [1900, 1950, 2000, 2050, 2100, 2150, 2200, 2250, 2300], "format": "d", "labelPadding": 3, "titlePadding": 2}
        },
        "y": {
          "field": "absorbance",
          "type": "quantitative",
          "scale": {"domain": [-0.0485, 1.0485], "nice": false, "zero": false},
          "axis": {"title": "Normalized Absorbance", "values": [0, 0.2, 0.4, 0.6, 0.8, 1.0], "format": ".1f", "labelPadding": 4, "titlePadding": 9}
        },
        "color": {
          "field": "series",
          "type": "nominal",
          "sort": null,
          "scale": {
            "domain": ["Non-Purified [0.35% Pd Impurity]", "PPh₃ Purified [0.23% Pd Impurity]", "Acid Purified [0.04% Pd Impurity]"],
            "range": ["#0000ff", "#008000", "#ff0000"]
          },
          "legend": {
            "title": null,
            "orient": "none",
            "legendX": 535,
            "legendY": 12,
            "symbolType": "M-1,0H3",
            "symbolSize": 625,
            "symbolStrokeWidth": 2,
            "symbolFillColor": "transparent",
            "labelFont": "DejaVu Sans",
            "labelFontSize": 25,
            "labelColor": "#000000",
            "labelOffset": 44,
            "labelLimit": 600,
            "rowPadding": 12,
            "padding": 7,
            "strokeColor": "#cccccc",
            "fillColor": "#ffffff",
            "cornerRadius": 4
          }
        }
      }
    },
    {
      "data": {"values": [{"wavenumber": 2129, "absorbance": 1.0, "label": "2129"}]},
      "mark": {"type": "text", "align": "right", "baseline": "middle", "dx": -6, "font": "Liberation Sans", "fontSize": 25, "color": "#000000"},
      "encoding": {
        "x": {"field": "wavenumber", "type": "quantitative"},
        "y": {"field": "absorbance", "type": "quantitative"},
        "text": {"field": "label"}
      }
    }
  ]
}
